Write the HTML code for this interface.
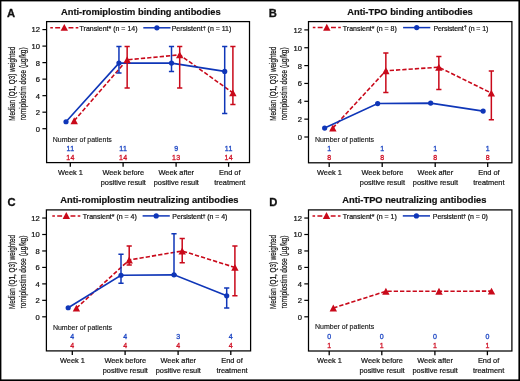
<!DOCTYPE html>
<html><head><meta charset="utf-8"><style>
html,body{margin:0;padding:0;background:#fff;}
svg{display:block;will-change:transform;}
text{font-family:"Liberation Sans", sans-serif;}
</style></head><body>
<svg width="520" height="381" viewBox="0 0 520 381" fill="#111" font-family='"Liberation Sans", sans-serif'>
<rect x="0" y="0" width="520" height="381" fill="#fff"/>
<rect x="0.6" y="0.6" width="518.6" height="379.6" fill="none" stroke="#000" stroke-width="1.6"/>
<text x="6.9" y="16.8" font-size="11.2" font-weight="bold" stroke="#111" stroke-width="0.3">A</text>
<text x="61" y="14.8" font-size="9.3" font-weight="bold" stroke="#111" stroke-width="0.2">Anti-romiplostim binding antibodies</text>
<rect x="46.6" y="21.6" width="202.9" height="141" fill="none" stroke="#000" stroke-width="1.25"/>
<path d="M42.4 128.7H46.6" stroke="#000" stroke-width="1.2"/>
<text x="40" y="131.6" font-size="7.6" text-anchor="end" stroke="#111" stroke-width="0.22">0</text>
<path d="M42.4 112.18H46.6" stroke="#000" stroke-width="1.2"/>
<text x="40" y="115.08" font-size="7.6" text-anchor="end" stroke="#111" stroke-width="0.22">2</text>
<path d="M42.4 95.66H46.6" stroke="#000" stroke-width="1.2"/>
<text x="40" y="98.56" font-size="7.6" text-anchor="end" stroke="#111" stroke-width="0.22">4</text>
<path d="M42.4 79.14H46.6" stroke="#000" stroke-width="1.2"/>
<text x="40" y="82.04" font-size="7.6" text-anchor="end" stroke="#111" stroke-width="0.22">6</text>
<path d="M42.4 62.62H46.6" stroke="#000" stroke-width="1.2"/>
<text x="40" y="65.52" font-size="7.6" text-anchor="end" stroke="#111" stroke-width="0.22">8</text>
<path d="M42.4 46.1H46.6" stroke="#000" stroke-width="1.2"/>
<text x="40" y="49" font-size="7.6" text-anchor="end" stroke="#111" stroke-width="0.22">10</text>
<path d="M42.4 29.58H46.6" stroke="#000" stroke-width="1.2"/>
<text x="40" y="32.48" font-size="7.6" text-anchor="end" stroke="#111" stroke-width="0.22">12</text>
<path d="M70.3 162.6V166.8" stroke="#000" stroke-width="1.3"/>
<text x="70.5" y="174.9" font-size="7.4" text-anchor="middle" stroke="#111" stroke-width="0.2">Week 1</text>
<path d="M123.1 162.6V166.8" stroke="#000" stroke-width="1.3"/>
<text x="123.3" y="174.9" font-size="7.4" text-anchor="middle" stroke="#111" stroke-width="0.2">Week before</text>
<text x="123.3" y="184.6" font-size="7.4" text-anchor="middle" stroke="#111" stroke-width="0.2">positive result</text>
<path d="M176.1 162.6V166.8" stroke="#000" stroke-width="1.3"/>
<text x="176.3" y="174.9" font-size="7.4" text-anchor="middle" stroke="#111" stroke-width="0.2">Week after</text>
<text x="176.3" y="184.6" font-size="7.4" text-anchor="middle" stroke="#111" stroke-width="0.2">positive result</text>
<path d="M228.6 162.6V166.8" stroke="#000" stroke-width="1.3"/>
<text x="229.8" y="174.9" font-size="7.4" text-anchor="middle" stroke="#111" stroke-width="0.2">End of</text>
<text x="229.8" y="184.6" font-size="7.4" text-anchor="middle" stroke="#111" stroke-width="0.2">treatment</text>
<text transform="translate(14.6 83.75) rotate(-90)" font-size="9.1" text-anchor="middle" textLength="74" lengthAdjust="spacingAndGlyphs" stroke="#111" stroke-width="0.2">Median (Q1, Q3) weighted</text>
<text transform="translate(25.7 83.75) rotate(-90)" font-size="9.1" text-anchor="middle" textLength="73" lengthAdjust="spacingAndGlyphs" stroke="#111" stroke-width="0.2">romiplostim dose (µg/kg)</text>
<text x="52.7" y="142" font-size="7" stroke="#111" stroke-width="0.12">Number of patients</text>
<text x="70.55" y="151" font-size="7" text-anchor="middle" fill="#1f48c4" stroke="#1f48c4" stroke-width="0.3" letter-spacing="0.5">11</text>
<text x="70.55" y="159.8" font-size="7" text-anchor="middle" fill="#d01428" stroke="#d01428" stroke-width="0.3" letter-spacing="0.5">14</text>
<text x="123.35" y="151" font-size="7" text-anchor="middle" fill="#1f48c4" stroke="#1f48c4" stroke-width="0.3" letter-spacing="0.5">11</text>
<text x="123.35" y="159.8" font-size="7" text-anchor="middle" fill="#d01428" stroke="#d01428" stroke-width="0.3" letter-spacing="0.5">14</text>
<text x="176.35" y="151" font-size="7" text-anchor="middle" fill="#1f48c4" stroke="#1f48c4" stroke-width="0.3" letter-spacing="0.5">9</text>
<text x="176.35" y="159.8" font-size="7" text-anchor="middle" fill="#d01428" stroke="#d01428" stroke-width="0.3" letter-spacing="0.5">13</text>
<text x="228.85" y="151" font-size="7" text-anchor="middle" fill="#1f48c4" stroke="#1f48c4" stroke-width="0.3" letter-spacing="0.5">11</text>
<text x="228.85" y="159.8" font-size="7" text-anchor="middle" fill="#d01428" stroke="#d01428" stroke-width="0.3" letter-spacing="0.5">14</text>
<path d="M50.3 27.8H52.9 M55.2 27.8H60.1 M68.5 27.8H73.4 M75.7 27.8H78.3" stroke="#c9091a" stroke-width="1.5"/>
<path d="M64.3 23.95L68 30.85L60.6 30.85Z" fill="#c9091a"/>
<text x="79.6" y="31.1" font-size="7" stroke="#111" stroke-width="0.2">Transient* (n = 14)</text>
<path d="M143.3 27.8H170.5" stroke="#0f36b8" stroke-width="1.5"/>
<circle cx="156.9" cy="27.8" r="2.6" fill="#0f36b8"/>
<text x="171.7" y="31.1" font-size="7" stroke="#111" stroke-width="0.2" textLength="59.6">Persistent<tspan font-size="5.5" dy="-1.6">†</tspan><tspan dy="1.6"> (n = 11)</tspan></text>
<polyline points="74.2,120.77 127.15,59.82 179.7,54.86 232.9,92.86" fill="none" stroke="#c9091a" stroke-width="1.6" stroke-dasharray="4.3 2.0"/>
<polyline points="66,121.77 118.95,63.12 171.5,63.12 224.7,71.38" fill="none" stroke="#0f36b8" stroke-width="1.6"/>
<path d="M127.15 46.6V87.9 M124.55 46.6h5.2 M124.55 87.9h5.2" stroke="#c9091a" stroke-width="1.5" fill="none"/>
<path d="M179.7 46.6V87.9 M177.1 46.6h5.2 M177.1 87.9h5.2" stroke="#c9091a" stroke-width="1.5" fill="none"/>
<path d="M232.9 46.6V104.42 M230.3 46.6h5.2 M230.3 104.42h5.2" stroke="#c9091a" stroke-width="1.5" fill="none"/>
<path d="M118.95 46.6V73.03 M116.35 46.6h5.2 M116.35 73.03h5.2" stroke="#0f36b8" stroke-width="1.5" fill="none"/>
<path d="M171.5 46.6V71.38 M168.9 46.6h5.2 M168.9 71.38h5.2" stroke="#0f36b8" stroke-width="1.5" fill="none"/>
<path d="M224.7 46.6V113.51 M222.1 46.6h5.2 M222.1 113.51h5.2" stroke="#0f36b8" stroke-width="1.5" fill="none"/>
<circle cx="66" cy="121.77" r="2.6" fill="#0f36b8"/>
<circle cx="118.95" cy="63.12" r="2.6" fill="#0f36b8"/>
<circle cx="171.5" cy="63.12" r="2.6" fill="#0f36b8"/>
<circle cx="224.7" cy="71.38" r="2.6" fill="#0f36b8"/>
<path d="M74.2 117.32L77.9 124.22L70.5 124.22Z" fill="#c9091a"/>
<path d="M127.15 56.37L130.85 63.27L123.45 63.27Z" fill="#c9091a"/>
<path d="M179.7 51.41L183.4 58.31L176 58.31Z" fill="#c9091a"/>
<path d="M232.9 89.41L236.6 96.31L229.2 96.31Z" fill="#c9091a"/>
<text x="268.8" y="16.7" font-size="11.2" font-weight="bold" stroke="#111" stroke-width="0.3">B</text>
<text x="347.3" y="14.8" font-size="9.3" font-weight="bold" stroke="#111" stroke-width="0.2">Anti-TPO binding antibodies</text>
<rect x="308.5" y="21.6" width="203.4" height="141.2" fill="none" stroke="#000" stroke-width="1.25"/>
<path d="M304.3 137H308.5" stroke="#000" stroke-width="1.2"/>
<text x="301.9" y="139.9" font-size="7.6" text-anchor="end" stroke="#111" stroke-width="0.22">0</text>
<path d="M304.3 119.15H308.5" stroke="#000" stroke-width="1.2"/>
<text x="301.9" y="122.05" font-size="7.6" text-anchor="end" stroke="#111" stroke-width="0.22">2</text>
<path d="M304.3 101.3H308.5" stroke="#000" stroke-width="1.2"/>
<text x="301.9" y="104.2" font-size="7.6" text-anchor="end" stroke="#111" stroke-width="0.22">4</text>
<path d="M304.3 83.45H308.5" stroke="#000" stroke-width="1.2"/>
<text x="301.9" y="86.35" font-size="7.6" text-anchor="end" stroke="#111" stroke-width="0.22">6</text>
<path d="M304.3 65.6H308.5" stroke="#000" stroke-width="1.2"/>
<text x="301.9" y="68.5" font-size="7.6" text-anchor="end" stroke="#111" stroke-width="0.22">8</text>
<path d="M304.3 47.75H308.5" stroke="#000" stroke-width="1.2"/>
<text x="301.9" y="50.65" font-size="7.6" text-anchor="end" stroke="#111" stroke-width="0.22">10</text>
<path d="M304.3 29.9H308.5" stroke="#000" stroke-width="1.2"/>
<text x="301.9" y="32.8" font-size="7.6" text-anchor="end" stroke="#111" stroke-width="0.22">12</text>
<path d="M329.2 162.8V167" stroke="#000" stroke-width="1.3"/>
<text x="329.4" y="175.1" font-size="7.4" text-anchor="middle" stroke="#111" stroke-width="0.2">Week 1</text>
<path d="M382.2 162.8V167" stroke="#000" stroke-width="1.3"/>
<text x="382.4" y="175.1" font-size="7.4" text-anchor="middle" stroke="#111" stroke-width="0.2">Week before</text>
<text x="382.4" y="184.8" font-size="7.4" text-anchor="middle" stroke="#111" stroke-width="0.2">positive result</text>
<path d="M435.2 162.8V167" stroke="#000" stroke-width="1.3"/>
<text x="435.4" y="175.1" font-size="7.4" text-anchor="middle" stroke="#111" stroke-width="0.2">Week after</text>
<text x="435.4" y="184.8" font-size="7.4" text-anchor="middle" stroke="#111" stroke-width="0.2">positive result</text>
<path d="M487.7 162.8V167" stroke="#000" stroke-width="1.3"/>
<text x="488.9" y="175.1" font-size="7.4" text-anchor="middle" stroke="#111" stroke-width="0.2">End of</text>
<text x="488.9" y="184.8" font-size="7.4" text-anchor="middle" stroke="#111" stroke-width="0.2">treatment</text>
<text transform="translate(275.7 83.75) rotate(-90)" font-size="9.1" text-anchor="middle" textLength="74" lengthAdjust="spacingAndGlyphs" stroke="#111" stroke-width="0.2">Median (Q1, Q3) weighted</text>
<text transform="translate(286.7 83.75) rotate(-90)" font-size="9.1" text-anchor="middle" textLength="73" lengthAdjust="spacingAndGlyphs" stroke="#111" stroke-width="0.2">romiplostim dose (µg/kg)</text>
<text x="314.9" y="142.3" font-size="7" stroke="#111" stroke-width="0.12">Number of patients</text>
<text x="329.45" y="151.3" font-size="7" text-anchor="middle" fill="#1f48c4" stroke="#1f48c4" stroke-width="0.3" letter-spacing="0.5">1</text>
<text x="329.45" y="160.1" font-size="7" text-anchor="middle" fill="#d01428" stroke="#d01428" stroke-width="0.3" letter-spacing="0.5">8</text>
<text x="382.45" y="151.3" font-size="7" text-anchor="middle" fill="#1f48c4" stroke="#1f48c4" stroke-width="0.3" letter-spacing="0.5">1</text>
<text x="382.45" y="160.1" font-size="7" text-anchor="middle" fill="#d01428" stroke="#d01428" stroke-width="0.3" letter-spacing="0.5">8</text>
<text x="435.45" y="151.3" font-size="7" text-anchor="middle" fill="#1f48c4" stroke="#1f48c4" stroke-width="0.3" letter-spacing="0.5">1</text>
<text x="435.45" y="160.1" font-size="7" text-anchor="middle" fill="#d01428" stroke="#d01428" stroke-width="0.3" letter-spacing="0.5">8</text>
<text x="487.95" y="151.3" font-size="7" text-anchor="middle" fill="#1f48c4" stroke="#1f48c4" stroke-width="0.3" letter-spacing="0.5">1</text>
<text x="487.95" y="160.1" font-size="7" text-anchor="middle" fill="#d01428" stroke="#d01428" stroke-width="0.3" letter-spacing="0.5">8</text>
<path d="M312.8 27.6H315.4 M317.7 27.6H322.6 M331 27.6H335.9 M338.2 27.6H340.8" stroke="#c9091a" stroke-width="1.5"/>
<path d="M326.8 23.75L330.5 30.65L323.1 30.65Z" fill="#c9091a"/>
<text x="342.8" y="30.9" font-size="7" stroke="#111" stroke-width="0.2">Transient* (n = 8)</text>
<path d="M403.1 27.6H430.3" stroke="#0f36b8" stroke-width="1.5"/>
<circle cx="416.7" cy="27.6" r="2.6" fill="#0f36b8"/>
<text x="433.5" y="30.9" font-size="7" stroke="#111" stroke-width="0.2" textLength="54.8">Persistent<tspan font-size="5.5" dy="-1.6">†</tspan><tspan dy="1.6"> (n = 1)</tspan></text>
<polyline points="332.85,128.07 385.85,70.78 438.85,67.21 491.35,93.09" fill="none" stroke="#c9091a" stroke-width="1.6" stroke-dasharray="4.3 2.0"/>
<polyline points="324.65,128.07 377.65,103.53 430.65,103.09 483.15,111.12" fill="none" stroke="#0f36b8" stroke-width="1.6"/>
<path d="M385.85 53.1V92.55 M383.25 53.1h5.2 M383.25 92.55h5.2" stroke="#c9091a" stroke-width="1.5" fill="none"/>
<path d="M438.85 56.41V89.43 M436.25 56.41h5.2 M436.25 89.43h5.2" stroke="#c9091a" stroke-width="1.5" fill="none"/>
<path d="M491.35 71.04V119.77 M488.75 71.04h5.2 M488.75 119.77h5.2" stroke="#c9091a" stroke-width="1.5" fill="none"/>
<circle cx="324.65" cy="128.07" r="2.6" fill="#0f36b8"/>
<circle cx="377.65" cy="103.53" r="2.6" fill="#0f36b8"/>
<circle cx="430.65" cy="103.09" r="2.6" fill="#0f36b8"/>
<circle cx="483.15" cy="111.12" r="2.6" fill="#0f36b8"/>
<path d="M332.85 124.62L336.55 131.52L329.15 131.52Z" fill="#c9091a"/>
<path d="M385.85 67.33L389.55 74.23L382.15 74.23Z" fill="#c9091a"/>
<path d="M438.85 63.76L442.55 70.66L435.15 70.66Z" fill="#c9091a"/>
<path d="M491.35 89.64L495.05 96.54L487.65 96.54Z" fill="#c9091a"/>
<text x="7.4" y="205.6" font-size="11.2" font-weight="bold" stroke="#111" stroke-width="0.3">C</text>
<text x="60.3" y="203.4" font-size="9.3" font-weight="bold" stroke="#111" stroke-width="0.2">Anti-romiplostim neutralizing antibodies</text>
<rect x="46.4" y="209.9" width="204.2" height="141" fill="none" stroke="#000" stroke-width="1.25"/>
<path d="M42.2 316.8H46.4" stroke="#000" stroke-width="1.2"/>
<text x="39.8" y="319.7" font-size="7.6" text-anchor="end" stroke="#111" stroke-width="0.22">0</text>
<path d="M42.2 300.34H46.4" stroke="#000" stroke-width="1.2"/>
<text x="39.8" y="303.24" font-size="7.6" text-anchor="end" stroke="#111" stroke-width="0.22">2</text>
<path d="M42.2 283.88H46.4" stroke="#000" stroke-width="1.2"/>
<text x="39.8" y="286.78" font-size="7.6" text-anchor="end" stroke="#111" stroke-width="0.22">4</text>
<path d="M42.2 267.42H46.4" stroke="#000" stroke-width="1.2"/>
<text x="39.8" y="270.32" font-size="7.6" text-anchor="end" stroke="#111" stroke-width="0.22">6</text>
<path d="M42.2 250.96H46.4" stroke="#000" stroke-width="1.2"/>
<text x="39.8" y="253.86" font-size="7.6" text-anchor="end" stroke="#111" stroke-width="0.22">8</text>
<path d="M42.2 234.5H46.4" stroke="#000" stroke-width="1.2"/>
<text x="39.8" y="237.4" font-size="7.6" text-anchor="end" stroke="#111" stroke-width="0.22">10</text>
<path d="M42.2 218.04H46.4" stroke="#000" stroke-width="1.2"/>
<text x="39.8" y="220.94" font-size="7.6" text-anchor="end" stroke="#111" stroke-width="0.22">12</text>
<path d="M72.3 350.9V355.1" stroke="#000" stroke-width="1.3"/>
<text x="72.5" y="363.2" font-size="7.4" text-anchor="middle" stroke="#111" stroke-width="0.2">Week 1</text>
<path d="M125.1 350.9V355.1" stroke="#000" stroke-width="1.3"/>
<text x="125.3" y="363.2" font-size="7.4" text-anchor="middle" stroke="#111" stroke-width="0.2">Week before</text>
<text x="125.3" y="372.9" font-size="7.4" text-anchor="middle" stroke="#111" stroke-width="0.2">positive result</text>
<path d="M178.1 350.9V355.1" stroke="#000" stroke-width="1.3"/>
<text x="178.3" y="363.2" font-size="7.4" text-anchor="middle" stroke="#111" stroke-width="0.2">Week after</text>
<text x="178.3" y="372.9" font-size="7.4" text-anchor="middle" stroke="#111" stroke-width="0.2">positive result</text>
<path d="M230.8 350.9V355.1" stroke="#000" stroke-width="1.3"/>
<text x="232" y="363.2" font-size="7.4" text-anchor="middle" stroke="#111" stroke-width="0.2">End of</text>
<text x="232" y="372.9" font-size="7.4" text-anchor="middle" stroke="#111" stroke-width="0.2">treatment</text>
<text transform="translate(14.6 272) rotate(-90)" font-size="9.1" text-anchor="middle" textLength="74" lengthAdjust="spacingAndGlyphs" stroke="#111" stroke-width="0.2">Median (Q1, Q3) weighted</text>
<text transform="translate(25.8 272) rotate(-90)" font-size="9.1" text-anchor="middle" textLength="73" lengthAdjust="spacingAndGlyphs" stroke="#111" stroke-width="0.2">romiplostim dose (µg/kg)</text>
<text x="52.9" y="330.2" font-size="7" stroke="#111" stroke-width="0.12">Number of patients</text>
<text x="72.55" y="339.2" font-size="7" text-anchor="middle" fill="#1f48c4" stroke="#1f48c4" stroke-width="0.3" letter-spacing="0.5">4</text>
<text x="72.55" y="348" font-size="7" text-anchor="middle" fill="#d01428" stroke="#d01428" stroke-width="0.3" letter-spacing="0.5">4</text>
<text x="125.35" y="339.2" font-size="7" text-anchor="middle" fill="#1f48c4" stroke="#1f48c4" stroke-width="0.3" letter-spacing="0.5">4</text>
<text x="125.35" y="348" font-size="7" text-anchor="middle" fill="#d01428" stroke="#d01428" stroke-width="0.3" letter-spacing="0.5">4</text>
<text x="178.35" y="339.2" font-size="7" text-anchor="middle" fill="#1f48c4" stroke="#1f48c4" stroke-width="0.3" letter-spacing="0.5">3</text>
<text x="178.35" y="348" font-size="7" text-anchor="middle" fill="#d01428" stroke="#d01428" stroke-width="0.3" letter-spacing="0.5">4</text>
<text x="231.05" y="339.2" font-size="7" text-anchor="middle" fill="#1f48c4" stroke="#1f48c4" stroke-width="0.3" letter-spacing="0.5">4</text>
<text x="231.05" y="348" font-size="7" text-anchor="middle" fill="#d01428" stroke="#d01428" stroke-width="0.3" letter-spacing="0.5">4</text>
<path d="M52.3 215.9H54.9 M57.2 215.9H62.1 M70.5 215.9H75.4 M77.7 215.9H80.3" stroke="#c9091a" stroke-width="1.5"/>
<path d="M66.3 212.05L70 218.95L62.6 218.95Z" fill="#c9091a"/>
<text x="82.8" y="219.2" font-size="7" stroke="#111" stroke-width="0.2">Transient* (n = 4)</text>
<path d="M142.6 215.9H169.8" stroke="#0f36b8" stroke-width="1.5"/>
<circle cx="156.2" cy="215.9" r="2.6" fill="#0f36b8"/>
<text x="172.3" y="219.2" font-size="7" stroke="#111" stroke-width="0.2" textLength="55">Persistent<tspan font-size="5.5" dy="-1.6">†</tspan><tspan dy="1.6"> (n = 4)</tspan></text>
<polyline points="76.4,308.16 129.2,260.01 182.2,250.96 234.9,267.42" fill="none" stroke="#c9091a" stroke-width="1.6" stroke-dasharray="4.3 2.0"/>
<polyline points="68.2,307.75 121,275.24 174,274.83 226.7,295.81" fill="none" stroke="#0f36b8" stroke-width="1.6"/>
<path d="M129.2 246.02V264.95 M126.6 246.02h5.2 M126.6 264.95h5.2" stroke="#c9091a" stroke-width="1.5" fill="none"/>
<path d="M182.2 238.62V262.81 M179.6 238.62h5.2 M179.6 262.81h5.2" stroke="#c9091a" stroke-width="1.5" fill="none"/>
<path d="M234.9 246.02V295.81 M232.3 246.02h5.2 M232.3 295.81h5.2" stroke="#c9091a" stroke-width="1.5" fill="none"/>
<path d="M121 254.25V283.3 M118.4 254.25h5.2 M118.4 283.3h5.2" stroke="#0f36b8" stroke-width="1.5" fill="none"/>
<path d="M174 233.68V274.83 M171.4 233.68h5.2 M171.4 274.83h5.2" stroke="#0f36b8" stroke-width="1.5" fill="none"/>
<path d="M226.7 288V307.91 M224.1 288h5.2 M224.1 307.91h5.2" stroke="#0f36b8" stroke-width="1.5" fill="none"/>
<circle cx="68.2" cy="307.75" r="2.6" fill="#0f36b8"/>
<circle cx="121" cy="275.24" r="2.6" fill="#0f36b8"/>
<circle cx="174" cy="274.83" r="2.6" fill="#0f36b8"/>
<circle cx="226.7" cy="295.81" r="2.6" fill="#0f36b8"/>
<path d="M76.4 304.71L80.1 311.61L72.7 311.61Z" fill="#c9091a"/>
<path d="M129.2 256.56L132.9 263.46L125.5 263.46Z" fill="#c9091a"/>
<path d="M182.2 247.51L185.9 254.41L178.5 254.41Z" fill="#c9091a"/>
<path d="M234.9 263.97L238.6 270.87L231.2 270.87Z" fill="#c9091a"/>
<text x="269.3" y="205.5" font-size="11.2" font-weight="bold" stroke="#111" stroke-width="0.3">D</text>
<text x="342.3" y="203.4" font-size="9.3" font-weight="bold" stroke="#111" stroke-width="0.2">Anti-TPO neutralizing antibodies</text>
<rect x="308.5" y="209.9" width="203.4" height="141.1" fill="none" stroke="#000" stroke-width="1.25"/>
<path d="M304.3 316.8H308.5" stroke="#000" stroke-width="1.2"/>
<text x="301.9" y="319.7" font-size="7.6" text-anchor="end" stroke="#111" stroke-width="0.22">0</text>
<path d="M304.3 300.34H308.5" stroke="#000" stroke-width="1.2"/>
<text x="301.9" y="303.24" font-size="7.6" text-anchor="end" stroke="#111" stroke-width="0.22">2</text>
<path d="M304.3 283.88H308.5" stroke="#000" stroke-width="1.2"/>
<text x="301.9" y="286.78" font-size="7.6" text-anchor="end" stroke="#111" stroke-width="0.22">4</text>
<path d="M304.3 267.42H308.5" stroke="#000" stroke-width="1.2"/>
<text x="301.9" y="270.32" font-size="7.6" text-anchor="end" stroke="#111" stroke-width="0.22">6</text>
<path d="M304.3 250.96H308.5" stroke="#000" stroke-width="1.2"/>
<text x="301.9" y="253.86" font-size="7.6" text-anchor="end" stroke="#111" stroke-width="0.22">8</text>
<path d="M304.3 234.5H308.5" stroke="#000" stroke-width="1.2"/>
<text x="301.9" y="237.4" font-size="7.6" text-anchor="end" stroke="#111" stroke-width="0.22">10</text>
<path d="M304.3 218.04H308.5" stroke="#000" stroke-width="1.2"/>
<text x="301.9" y="220.94" font-size="7.6" text-anchor="end" stroke="#111" stroke-width="0.22">12</text>
<path d="M329.2 351V355.2" stroke="#000" stroke-width="1.3"/>
<text x="329.4" y="363.3" font-size="7.4" text-anchor="middle" stroke="#111" stroke-width="0.2">Week 1</text>
<path d="M381.8 351V355.2" stroke="#000" stroke-width="1.3"/>
<text x="382" y="363.3" font-size="7.4" text-anchor="middle" stroke="#111" stroke-width="0.2">Week before</text>
<text x="382" y="373" font-size="7.4" text-anchor="middle" stroke="#111" stroke-width="0.2">positive result</text>
<path d="M434.9 351V355.2" stroke="#000" stroke-width="1.3"/>
<text x="435.1" y="363.3" font-size="7.4" text-anchor="middle" stroke="#111" stroke-width="0.2">Week after</text>
<text x="435.1" y="373" font-size="7.4" text-anchor="middle" stroke="#111" stroke-width="0.2">positive result</text>
<path d="M487.4 351V355.2" stroke="#000" stroke-width="1.3"/>
<text x="488.6" y="363.3" font-size="7.4" text-anchor="middle" stroke="#111" stroke-width="0.2">End of</text>
<text x="488.6" y="373" font-size="7.4" text-anchor="middle" stroke="#111" stroke-width="0.2">treatment</text>
<text transform="translate(275.8 272) rotate(-90)" font-size="9.1" text-anchor="middle" textLength="74" lengthAdjust="spacingAndGlyphs" stroke="#111" stroke-width="0.2">Median (Q1, Q3) weighted</text>
<text transform="translate(287 272) rotate(-90)" font-size="9.1" text-anchor="middle" textLength="73" lengthAdjust="spacingAndGlyphs" stroke="#111" stroke-width="0.2">romiplostim dose (µg/kg)</text>
<text x="315" y="329" font-size="7" stroke="#111" stroke-width="0.12">Number of patients</text>
<text x="329.45" y="339.2" font-size="7" text-anchor="middle" fill="#1f48c4" stroke="#1f48c4" stroke-width="0.3" letter-spacing="0.5">0</text>
<text x="329.45" y="348" font-size="7" text-anchor="middle" fill="#d01428" stroke="#d01428" stroke-width="0.3" letter-spacing="0.5">1</text>
<text x="382.05" y="339.2" font-size="7" text-anchor="middle" fill="#1f48c4" stroke="#1f48c4" stroke-width="0.3" letter-spacing="0.5">0</text>
<text x="382.05" y="348" font-size="7" text-anchor="middle" fill="#d01428" stroke="#d01428" stroke-width="0.3" letter-spacing="0.5">1</text>
<text x="435.15" y="339.2" font-size="7" text-anchor="middle" fill="#1f48c4" stroke="#1f48c4" stroke-width="0.3" letter-spacing="0.5">0</text>
<text x="435.15" y="348" font-size="7" text-anchor="middle" fill="#d01428" stroke="#d01428" stroke-width="0.3" letter-spacing="0.5">1</text>
<text x="487.65" y="339.2" font-size="7" text-anchor="middle" fill="#1f48c4" stroke="#1f48c4" stroke-width="0.3" letter-spacing="0.5">0</text>
<text x="487.65" y="348" font-size="7" text-anchor="middle" fill="#d01428" stroke="#d01428" stroke-width="0.3" letter-spacing="0.5">1</text>
<path d="M312.5 215.9H315.1 M317.4 215.9H322.3 M330.7 215.9H335.6 M337.9 215.9H340.5" stroke="#c9091a" stroke-width="1.5"/>
<path d="M326.5 212.05L330.2 218.95L322.8 218.95Z" fill="#c9091a"/>
<text x="342.8" y="219.2" font-size="7" stroke="#111" stroke-width="0.2">Transient* (n = 1)</text>
<path d="M402.8 215.9H430" stroke="#0f36b8" stroke-width="1.5"/>
<circle cx="416.4" cy="215.9" r="2.6" fill="#0f36b8"/>
<text x="432.8" y="219.2" font-size="7" stroke="#111" stroke-width="0.2" textLength="55">Persistent<tspan font-size="5.5" dy="-1.6">†</tspan><tspan dy="1.6"> (n = 0)</tspan></text>
<polyline points="333.3,307.99 385.9,291.29 439,291.29 491.5,291.12" fill="none" stroke="#c9091a" stroke-width="1.6" stroke-dasharray="4.3 2.0"/>
<path d="M333.3 304.54L337 311.44L329.6 311.44Z" fill="#c9091a"/>
<path d="M385.9 287.84L389.6 294.74L382.2 294.74Z" fill="#c9091a"/>
<path d="M439 287.84L442.7 294.74L435.3 294.74Z" fill="#c9091a"/>
<path d="M491.5 287.67L495.2 294.57L487.8 294.57Z" fill="#c9091a"/>
</svg>
</body></html>
